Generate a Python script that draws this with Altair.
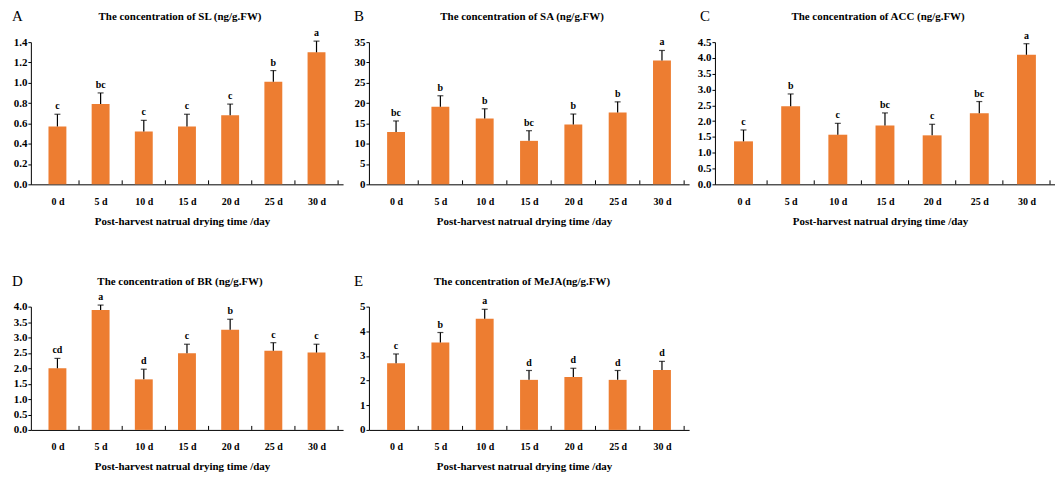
import altair as alt
import pandas as pd

days = ["0 d", "5 d", "10 d", "15 d", "20 d", "25 d", "30 d"]

sl_mean = [0.57, 0.79, 0.52, 0.57, 0.68, 1.01, 1.30]
sl_err = [0.12, 0.11, 0.11, 0.12, 0.11, 0.11, 0.11]
sl_sig = ["c", "bc", "c", "c", "c", "b", "a"]

sa_mean = [12.9, 19.1, 16.2, 10.7, 14.7, 17.7, 30.5]
sa_err = [2.7, 2.7, 2.4, 2.5, 2.6, 2.6, 2.45]
sa_sig = ["bc", "b", "b", "bc", "b", "b", "a"]

acc_mean = [1.36, 2.47, 1.57, 1.86, 1.55, 2.25, 4.10]
acc_err = [0.36, 0.39, 0.36, 0.40, 0.35, 0.37, 0.35]
acc_sig = ["c", "b", "c", "bc", "c", "bc", "a"]

br_mean = [2.00, 3.89, 1.64, 2.49, 3.25, 2.57, 2.51]
br_err = [0.32, 0.16, 0.33, 0.29, 0.34, 0.26, 0.27]
br_sig = ["cd", "a", "d", "c", "b", "c", "c"]

meja_mean = [2.70, 3.55, 4.51, 2.03, 2.15, 2.03, 2.43]
meja_err = [0.38, 0.40, 0.38, 0.38, 0.35, 0.38, 0.35]
meja_sig = ["c", "b", "a", "d", "d", "d", "d"]

sl_ticks = [0.0, 0.2, 0.4, 0.6, 0.8, 1.0, 1.2, 1.4]
sa_ticks = [0, 5, 10, 15, 20, 25, 30, 35]
acc_ticks = [0.0, 0.5, 1.0, 1.5, 2.0, 2.5, 3.0, 3.5, 4.0, 4.5]
br_ticks = [0.0, 0.5, 1.0, 1.5, 2.0, 2.5, 3.0, 3.5, 4.0]
meja_ticks = [0, 1, 2, 3, 4, 5]

XTITLE = "Post-harvest natrual drying time /day"
FONT = "Liberation Serif"
ORANGE = "#ED7D31"


def panel(letter, title, means, errs, sig, yticks, fmt, width, height, bar_size):
    n = len(days)
    df = pd.DataFrame({
        "idx": list(range(n)),
        "day": days,
        "mean": means,
        "top": [m + e for m, e in zip(means, errs)],
        "sig": sig,
    })
    label_expr = "[" + ",".join("'%s'" % d for d in days) + "][datum.value]"
    xaxis = alt.Axis(values=list(range(n)), labelExpr=label_expr, ticks=False, tickSize=0,
                     grid=False, labelPadding=12, labelFontSize=10, labelAngle=0,
                     title=XTITLE, titlePadding=9, titleX=width / 2 - 5, titleFontSize=11)
    xscale = alt.Scale(domain=[-0.5, n - 0.5], nice=False, zero=False)
    yaxis = alt.Axis(values=yticks, format=fmt, grid=False, tickSize=3, labelPadding=1,
                     labelFontSize=11, title=None)
    yscale = alt.Scale(domain=[0, yticks[-1]], nice=False)

    base = alt.Chart(df)
    bars = base.mark_bar(size=bar_size, color=ORANGE).encode(
        x=alt.X("idx:Q", scale=xscale, axis=xaxis),
        y=alt.Y("mean:Q", scale=yscale, axis=yaxis),
    )
    err = base.mark_rule(color="black", strokeWidth=1.2).encode(
        x=alt.X("idx:Q", scale=xscale, axis=xaxis),
        y=alt.Y("mean:Q", scale=yscale, axis=yaxis),
        y2="top:Q",
    )
    cap = base.mark_tick(color="black", orient="horizontal", size=6, thickness=1.2).encode(
        x=alt.X("idx:Q", scale=xscale, axis=xaxis),
        y=alt.Y("top:Q", scale=yscale, axis=yaxis),
    )
    sigt = base.mark_text(font=FONT, fontWeight="bold", fontSize=10, baseline="bottom",
                          dy=-3, color="black").encode(
        x=alt.X("idx:Q", scale=xscale, axis=xaxis),
        y=alt.Y("top:Q", scale=yscale, axis=yaxis),
        text="sig:N",
    )
    tick_df = pd.DataFrame({"pos": [i + 0.5 for i in range(n)]})
    xticks = alt.Chart(tick_df).mark_rule(color="black", strokeWidth=1).encode(
        x=alt.X("pos:Q", scale=xscale, axis=xaxis),
        y=alt.value(height),
        y2=alt.value(height - 4),
    )
    ttl = alt.Chart(pd.DataFrame({"t": [title]})).mark_text(
        font=FONT, fontWeight="bold", fontSize=11, align="center", baseline="middle", color="black"
    ).encode(text="t:N", x=alt.value(width / 2 - 7), y=alt.value(-25))
    let = alt.Chart(pd.DataFrame({"t": [letter]})).mark_text(
        font=FONT, fontSize=15, align="left", baseline="middle", color="black"
    ).encode(text="t:N", x=alt.value(-19 if letter in ("A", "D") else -15), y=alt.value(-26))
    return alt.layer(bars, err, cap, sigt, xticks, ttl, let).properties(width=width, height=height)


pA = panel("A", "The concentration of SL (ng/g.FW)", sl_mean, sl_err, sl_sig, sl_ticks, ".1f", 314, 143, 18)
pB = panel("B", "The concentration of SA (ng/g.FW)", sa_mean, sa_err, sa_sig, sa_ticks, "d", 322, 143, 18)
pC = panel("C", "The concentration of ACC (ng/g.FW)", acc_mean, acc_err, acc_sig, acc_ticks, ".1f", 342, 143, 19)
pD = panel("D", "The concentration of BR (ng/g.FW)", br_mean, br_err, br_sig, br_ticks, ".1f", 314, 124, 18)
pE = panel("E", "The concentration of MeJA(ng/g.FW)", meja_mean, meja_err, meja_sig, meja_ticks, "d", 322, 124, 18)

chart = alt.concat(pA, pB, pC, pD, pE, columns=3, spacing=alt.RowColnumber(row=123, column=26),
                   bounds="flush", align="each").properties(
    padding={"left": 4, "top": 0, "right": 0, "bottom": 0}
).configure_view(stroke=None).configure_axis(
    labelFont=FONT, labelFontWeight="bold", labelColor="black",
    titleFont=FONT, titleFontWeight="bold", titleColor="black",
    domainColor="black", domainWidth=1, tickColor="black",
)

chart.save("out.html", embed_options={"renderer": "svg", "actions": False})
